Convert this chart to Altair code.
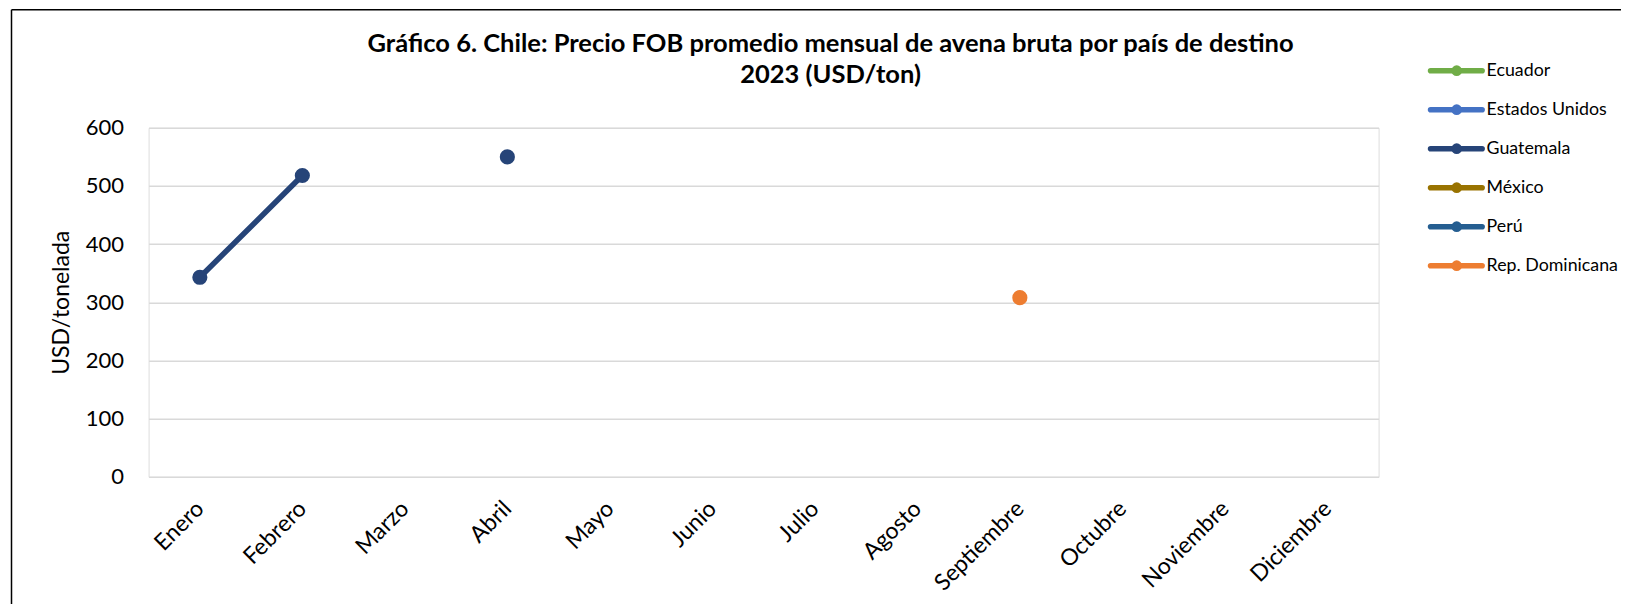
import altair as alt
import pandas as pd

months = ["Enero", "Febrero", "Marzo", "Abril", "Mayo", "Junio", "Julio",
          "Agosto", "Septiembre", "Octubre", "Noviembre", "Diciembre"]
countries = ["Ecuador", "Estados Unidos", "Guatemala", "México", "Perú", "Rep. Dominicana"]
colors = ["#70AD47", "#4472C4", "#264478", "#997300", "#255E91", "#ED7D31"]

guatemala = [343, 518, None, 550, None, None, None, None, None, None, None, None]
rep_dominicana = [None, None, None, None, None, None, None, None, 308, None, None, None]

series = {"Guatemala": guatemala, "Rep. Dominicana": rep_dominicana}
rows = []
for name, vals in series.items():
    for m, v in zip(months, vals):
        rows.append({"mes": m, "pais": name, "precio": v})
df = pd.DataFrame(rows)
legend_df = pd.DataFrame({"pais": countries})

FONT = "Lato"
PL, PT = 140.6, 119.8
W, H = 1230, 349

color = alt.Color("pais:N", scale=alt.Scale(domain=countries, range=colors), legend=None)

x = alt.X("mes:O", sort=months, scale=alt.Scale(domain=months),
          axis=alt.Axis(title=None, labelAngle=315, labelAlign="right", labelBaseline="middle",
                        labelPadding=28, ticks=False, domain=False, grid=False,
                        labelFont=FONT, labelFontSize=23, labelColor="black"))
y = alt.Y("precio:Q", scale=alt.Scale(domain=[0, 600], nice=False),
          axis=alt.Axis(title="USD/tonelada", values=[0, 100, 200, 300, 400, 500, 600],
                        ticks=False, domain=False, grid=True, gridColor="#D9D9D9", gridWidth=1.5,
                        labelPadding=25, labelFont=FONT, labelFontSize=22, labelColor="black",
                        titleFont=FONT, titleFontSize=23, titleFontWeight="normal", titleColor="black",
                        titleAngle=270, titleX=-87.6, titleY=H / 2, titleAlign="center",
                        titleBaseline="middle"))

base = alt.Chart(df)
lines = base.mark_line(strokeWidth=5.5, strokeCap="round", invalid="break-paths-show-domains").encode(
    x=x, y=y, color=color)
points = base.mark_point(filled=True, size=230, opacity=1, strokeWidth=0).encode(
    x=x, y=y, color=color)
main = alt.layer(lines, points)

# legend drawn with its own row scale
ly = alt.Y("pais:N", sort=countries,
           scale=alt.Scale(type="point", domain=countries, range=[-57.1, 137.9], padding=0),
           axis=None)
lbase = alt.Chart(legend_df)
leg_rule = lbase.mark_rule(strokeWidth=5.6, strokeCap="round").encode(
    x=alt.value(1282), x2=alt.value(1333.5), y=ly, color=color)
leg_pt = lbase.mark_point(filled=True, size=115, opacity=1, strokeWidth=0).encode(
    x=alt.value(1308.1), y=ly, color=color)
leg_txt = lbase.mark_text(align="left", baseline="middle", font=FONT, fontSize=17.8,
                          color="black").encode(x=alt.value(1338), y=ly, text="pais:N")
legend = alt.layer(leg_rule, leg_pt, leg_txt)

frame_data = alt.Data(values=[{"k": 0}])
frame_left = alt.Chart(frame_data).mark_rule(color="black", strokeWidth=1.5).encode(
    x=alt.value(11.5 - 8 - PL), y=alt.value(9.8 - 8 - PT), y2=alt.value(700))
frame_top = alt.Chart(frame_data).mark_rule(color="black", strokeWidth=1.5).encode(
    x=alt.value(11.5 - 8 - PL), x2=alt.value(1700), y=alt.value(9.8 - 8 - PT))
frame = alt.layer(frame_left, frame_top)

chart = alt.layer(main, legend, frame).resolve_scale(y="independent").properties(
    width=W, height=H,
    title=alt.TitleParams(
        text=["Gráfico 6. Chile: Precio FOB promedio mensual de avena bruta por país de destino",
              "2023 (USD/ton)"],
        anchor="middle", frame="group", dx=67, offset=-79, font=FONT, fontSize=25.5,
        fontWeight="bold", lineHeight=31, color="black"),
    autosize=alt.AutoSizeParams(type="none"),
    padding={"left": PL, "top": PT, "right": 1613 - PL - W, "bottom": 598 - PT - H - 2},
).configure_view(stroke=None).configure(background="white")

chart.save("out.html", embed_options={"renderer": "svg", "actions": False})
